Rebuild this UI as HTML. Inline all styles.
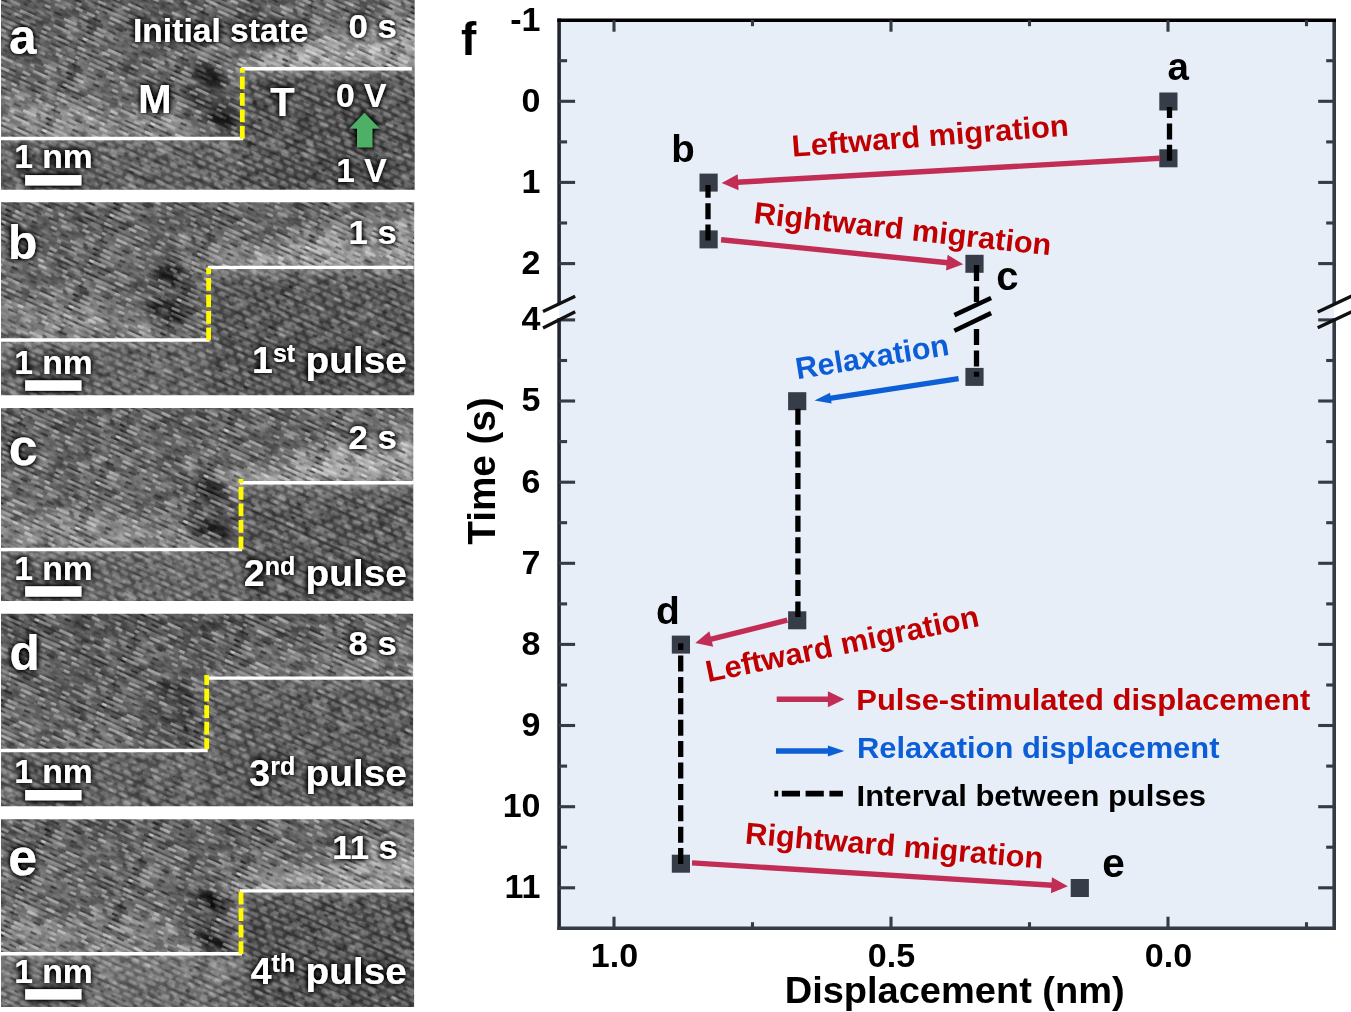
<!DOCTYPE html>
<html lang="en"><head><meta charset="utf-8"><title>Figure</title>
<style>html,body{margin:0;padding:0;background:#fff;}body{width:1351px;height:1012px;overflow:hidden;position:relative;}svg{position:absolute;left:0;top:0;display:block;}text{font-family:"Liberation Sans", sans-serif;font-weight:bold;}</style>
</head><body>
<svg width="1351" height="1012" viewBox="0 0 1351 1012">
<defs>
<filter id="glow" x="-20%" y="-40%" width="140%" height="180%"><feGaussianBlur in="SourceAlpha" stdDeviation="3.2" result="b"/><feComponentTransfer in="b" result="b2"><feFuncA type="linear" slope="1.9"/></feComponentTransfer><feMerge><feMergeNode in="b2"/><feMergeNode in="SourceGraphic"/></feMerge></filter>
<filter id="nz" x="0" y="0" width="100%" height="100%" color-interpolation-filters="sRGB"><feTurbulence type="fractalNoise" baseFrequency="0.06 0.15" numOctaves="2" seed="7" result="t"/><feColorMatrix in="t" type="matrix" values="0 0 0 0 0  0 0 0 0 0  0 0 0 0 0  0.8 0 0 0 -0.4" result="w"/><feFlood flood-color="#fff" result="fw"/><feComposite in="fw" in2="w" operator="in" result="white"/><feColorMatrix in="t" type="matrix" values="0 0 0 0 0  0 0 0 0 0  0 0 0 0 0  0 -1.0 0 0 0.5" result="k"/><feFlood flood-color="#000" result="fk"/><feComposite in="fk" in2="k" operator="in" result="black"/><feMerge><feMergeNode in="white"/><feMergeNode in="black"/></feMerge></filter>
<filter id="bl8" x="-30%" y="-30%" width="160%" height="160%"><feGaussianBlur stdDeviation="8"/></filter>
<filter id="bl14" x="-30%" y="-30%" width="160%" height="160%"><feGaussianBlur stdDeviation="14"/></filter>
<filter id="bl1" x="-5%" y="-5%" width="110%" height="110%"><feGaussianBlur stdDeviation="0.45"/></filter>
<filter id="bl3" x="-40%" y="-40%" width="180%" height="180%"><feGaussianBlur stdDeviation="3"/></filter>
<filter id="bl4" x="-30%" y="-30%" width="160%" height="160%"><feGaussianBlur stdDeviation="4"/></filter>
<pattern id="lat" width="12" height="14" patternUnits="userSpaceOnUse" patternTransform="rotate(24)"><rect x="0" y="0" width="12" height="14" fill="#000" fill-opacity="0.10"/><rect x="0.5" y="1.6" width="8" height="4.2" rx="1.6" fill="#fff" fill-opacity="0.22"/><rect x="6.5" y="8.6" width="8" height="4.2" rx="1.6" fill="#fff" fill-opacity="0.22"/><rect x="-5.5" y="8.6" width="8" height="4.2" rx="1.6" fill="#fff" fill-opacity="0.22"/></pattern>
<pattern id="stk" width="96" height="50" patternUnits="userSpaceOnUse" patternTransform="rotate(24)"><rect x="-3.7" y="0.0" width="8.1" height="2.8" fill="#fff" fill-opacity="0.32"/><rect x="92.3" y="0.0" width="8.1" height="2.8" fill="#fff" fill-opacity="0.32"/><rect x="4.3" y="0.0" width="9.2" height="2.8" fill="#fff" fill-opacity="0.29"/><rect x="13.5" y="0.0" width="9.1" height="2.8" fill="#000" fill-opacity="0.20"/><rect x="22.6" y="0.0" width="6.6" height="2.8" fill="#fff" fill-opacity="0.42"/><rect x="29.2" y="0.0" width="7.6" height="2.8" fill="#fff" fill-opacity="0.39"/><rect x="36.7" y="0.0" width="4.6" height="2.8" fill="#fff" fill-opacity="0.11"/><rect x="41.4" y="0.0" width="5.4" height="2.8" fill="#fff" fill-opacity="0.16"/><rect x="46.7" y="0.0" width="7.2" height="2.8" fill="#000" fill-opacity="0.22"/><rect x="53.9" y="0.0" width="5.2" height="2.8" fill="#000" fill-opacity="0.02"/><rect x="59.1" y="0.0" width="9.0" height="2.8" fill="#fff" fill-opacity="0.30"/><rect x="68.1" y="0.0" width="4.9" height="2.8" fill="#fff" fill-opacity="0.32"/><rect x="73.0" y="0.0" width="4.8" height="2.8" fill="#fff" fill-opacity="0.20"/><rect x="77.7" y="0.0" width="4.7" height="2.8" fill="#000" fill-opacity="0.22"/><rect x="82.4" y="0.0" width="8.8" height="2.8" fill="#000" fill-opacity="0.07"/><rect x="91.2" y="0.0" width="5.2" height="2.8" fill="#fff" fill-opacity="0.45"/><rect x="-5.2" y="2.8" width="5.6" height="2.2" fill="#000" fill-opacity="0.44"/><rect x="90.8" y="2.8" width="5.6" height="2.2" fill="#000" fill-opacity="0.44"/><rect x="0.4" y="2.8" width="7.0" height="2.2" fill="#000" fill-opacity="0.28"/><rect x="7.3" y="2.8" width="5.1" height="2.2" fill="#000" fill-opacity="0.43"/><rect x="12.4" y="2.8" width="7.8" height="2.2" fill="#000" fill-opacity="0.44"/><rect x="20.2" y="2.8" width="8.9" height="2.2" fill="#000" fill-opacity="0.07"/><rect x="29.2" y="2.8" width="6.0" height="2.2" fill="#fff" fill-opacity="0.00"/><rect x="35.1" y="2.8" width="4.8" height="2.2" fill="#fff" fill-opacity="0.06"/><rect x="40.0" y="2.8" width="5.7" height="2.2" fill="#000" fill-opacity="0.24"/><rect x="45.6" y="2.8" width="4.0" height="2.2" fill="#000" fill-opacity="0.28"/><rect x="49.6" y="2.8" width="5.9" height="2.2" fill="#000" fill-opacity="0.08"/><rect x="55.5" y="2.8" width="8.5" height="2.2" fill="#000" fill-opacity="0.17"/><rect x="64.0" y="2.8" width="5.7" height="2.2" fill="#000" fill-opacity="0.17"/><rect x="69.7" y="2.8" width="7.9" height="2.2" fill="#fff" fill-opacity="0.07"/><rect x="77.6" y="2.8" width="9.4" height="2.2" fill="#fff" fill-opacity="0.09"/><rect x="87.0" y="2.8" width="8.1" height="2.2" fill="#000" fill-opacity="0.37"/><rect x="95.1" y="2.8" width="4.1" height="2.2" fill="#000" fill-opacity="0.34"/><rect x="-2.2" y="5.0" width="7.2" height="2.8" fill="#000" fill-opacity="0.22"/><rect x="93.8" y="5.0" width="7.2" height="2.8" fill="#000" fill-opacity="0.22"/><rect x="5.0" y="5.0" width="4.3" height="2.8" fill="#000" fill-opacity="0.09"/><rect x="9.2" y="5.0" width="9.3" height="2.8" fill="#000" fill-opacity="0.08"/><rect x="18.5" y="5.0" width="8.2" height="2.8" fill="#fff" fill-opacity="0.41"/><rect x="26.7" y="5.0" width="9.2" height="2.8" fill="#fff" fill-opacity="0.02"/><rect x="35.8" y="5.0" width="6.0" height="2.8" fill="#fff" fill-opacity="0.14"/><rect x="41.8" y="5.0" width="8.3" height="2.8" fill="#000" fill-opacity="0.15"/><rect x="50.1" y="5.0" width="8.1" height="2.8" fill="#fff" fill-opacity="0.32"/><rect x="58.2" y="5.0" width="8.7" height="2.8" fill="#000" fill-opacity="0.20"/><rect x="66.9" y="5.0" width="9.2" height="2.8" fill="#000" fill-opacity="0.16"/><rect x="76.1" y="5.0" width="5.9" height="2.8" fill="#fff" fill-opacity="0.20"/><rect x="82.0" y="5.0" width="9.0" height="2.8" fill="#fff" fill-opacity="0.02"/><rect x="91.0" y="5.0" width="9.1" height="2.8" fill="#fff" fill-opacity="0.16"/><rect x="-1.9" y="7.8" width="5.7" height="2.2" fill="#000" fill-opacity="0.01"/><rect x="94.1" y="7.8" width="5.7" height="2.2" fill="#000" fill-opacity="0.01"/><rect x="3.9" y="7.8" width="4.4" height="2.2" fill="#fff" fill-opacity="0.01"/><rect x="8.3" y="7.8" width="7.8" height="2.2" fill="#000" fill-opacity="0.46"/><rect x="16.1" y="7.8" width="4.9" height="2.2" fill="#fff" fill-opacity="0.07"/><rect x="21.0" y="7.8" width="9.4" height="2.2" fill="#000" fill-opacity="0.20"/><rect x="30.4" y="7.8" width="6.2" height="2.2" fill="#000" fill-opacity="0.04"/><rect x="36.6" y="7.8" width="7.3" height="2.2" fill="#000" fill-opacity="0.36"/><rect x="43.9" y="7.8" width="6.5" height="2.2" fill="#000" fill-opacity="0.14"/><rect x="50.4" y="7.8" width="4.3" height="2.2" fill="#000" fill-opacity="0.41"/><rect x="54.7" y="7.8" width="4.2" height="2.2" fill="#000" fill-opacity="0.18"/><rect x="58.9" y="7.8" width="8.6" height="2.2" fill="#fff" fill-opacity="0.02"/><rect x="67.5" y="7.8" width="8.0" height="2.2" fill="#000" fill-opacity="0.43"/><rect x="75.5" y="7.8" width="7.5" height="2.2" fill="#000" fill-opacity="0.34"/><rect x="83.0" y="7.8" width="4.6" height="2.2" fill="#000" fill-opacity="0.15"/><rect x="87.6" y="7.8" width="4.8" height="2.2" fill="#000" fill-opacity="0.37"/><rect x="92.4" y="7.8" width="5.6" height="2.2" fill="#000" fill-opacity="0.16"/><rect x="-6.0" y="10.0" width="8.7" height="2.8" fill="#fff" fill-opacity="0.44"/><rect x="90.0" y="10.0" width="8.7" height="2.8" fill="#fff" fill-opacity="0.44"/><rect x="2.7" y="10.0" width="6.5" height="2.8" fill="#fff" fill-opacity="0.12"/><rect x="9.2" y="10.0" width="8.0" height="2.8" fill="#fff" fill-opacity="0.11"/><rect x="17.2" y="10.0" width="5.6" height="2.8" fill="#fff" fill-opacity="0.06"/><rect x="22.8" y="10.0" width="4.8" height="2.8" fill="#fff" fill-opacity="0.04"/><rect x="27.6" y="10.0" width="9.4" height="2.8" fill="#fff" fill-opacity="0.43"/><rect x="37.0" y="10.0" width="7.4" height="2.8" fill="#fff" fill-opacity="0.13"/><rect x="44.5" y="10.0" width="5.9" height="2.8" fill="#000" fill-opacity="0.16"/><rect x="50.4" y="10.0" width="5.5" height="2.8" fill="#fff" fill-opacity="0.31"/><rect x="55.8" y="10.0" width="8.8" height="2.8" fill="#fff" fill-opacity="0.03"/><rect x="64.6" y="10.0" width="8.3" height="2.8" fill="#fff" fill-opacity="0.31"/><rect x="72.9" y="10.0" width="7.8" height="2.8" fill="#fff" fill-opacity="0.24"/><rect x="80.8" y="10.0" width="8.2" height="2.8" fill="#fff" fill-opacity="0.04"/><rect x="88.9" y="10.0" width="7.9" height="2.8" fill="#000" fill-opacity="0.02"/><rect x="-2.9" y="12.8" width="8.2" height="2.2" fill="#000" fill-opacity="0.29"/><rect x="93.1" y="12.8" width="8.2" height="2.2" fill="#000" fill-opacity="0.29"/><rect x="5.3" y="12.8" width="5.6" height="2.2" fill="#000" fill-opacity="0.43"/><rect x="10.9" y="12.8" width="7.6" height="2.2" fill="#000" fill-opacity="0.23"/><rect x="18.5" y="12.8" width="4.1" height="2.2" fill="#000" fill-opacity="0.21"/><rect x="22.6" y="12.8" width="5.4" height="2.2" fill="#000" fill-opacity="0.28"/><rect x="28.0" y="12.8" width="6.5" height="2.2" fill="#000" fill-opacity="0.36"/><rect x="34.5" y="12.8" width="7.6" height="2.2" fill="#000" fill-opacity="0.35"/><rect x="42.1" y="12.8" width="5.9" height="2.2" fill="#000" fill-opacity="0.26"/><rect x="48.0" y="12.8" width="8.1" height="2.2" fill="#000" fill-opacity="0.37"/><rect x="56.0" y="12.8" width="5.9" height="2.2" fill="#000" fill-opacity="0.37"/><rect x="62.0" y="12.8" width="8.8" height="2.2" fill="#000" fill-opacity="0.29"/><rect x="70.7" y="12.8" width="9.4" height="2.2" fill="#000" fill-opacity="0.44"/><rect x="80.1" y="12.8" width="6.8" height="2.2" fill="#000" fill-opacity="0.20"/><rect x="87.0" y="12.8" width="4.9" height="2.2" fill="#000" fill-opacity="0.37"/><rect x="91.9" y="12.8" width="9.2" height="2.2" fill="#000" fill-opacity="0.17"/><rect x="-4.1" y="15.0" width="8.0" height="2.8" fill="#fff" fill-opacity="0.28"/><rect x="91.9" y="15.0" width="8.0" height="2.8" fill="#fff" fill-opacity="0.28"/><rect x="3.8" y="15.0" width="4.9" height="2.8" fill="#fff" fill-opacity="0.31"/><rect x="8.8" y="15.0" width="7.2" height="2.8" fill="#fff" fill-opacity="0.24"/><rect x="15.9" y="15.0" width="6.3" height="2.8" fill="#fff" fill-opacity="0.21"/><rect x="22.3" y="15.0" width="8.3" height="2.8" fill="#fff" fill-opacity="0.22"/><rect x="30.5" y="15.0" width="8.0" height="2.8" fill="#000" fill-opacity="0.20"/><rect x="38.5" y="15.0" width="4.9" height="2.8" fill="#fff" fill-opacity="0.09"/><rect x="43.4" y="15.0" width="7.6" height="2.8" fill="#000" fill-opacity="0.07"/><rect x="50.9" y="15.0" width="7.8" height="2.8" fill="#fff" fill-opacity="0.21"/><rect x="58.7" y="15.0" width="4.2" height="2.8" fill="#fff" fill-opacity="0.11"/><rect x="62.9" y="15.0" width="5.2" height="2.8" fill="#000" fill-opacity="0.19"/><rect x="68.2" y="15.0" width="4.7" height="2.8" fill="#fff" fill-opacity="0.00"/><rect x="72.9" y="15.0" width="5.0" height="2.8" fill="#000" fill-opacity="0.08"/><rect x="77.9" y="15.0" width="4.2" height="2.8" fill="#fff" fill-opacity="0.10"/><rect x="82.1" y="15.0" width="6.1" height="2.8" fill="#fff" fill-opacity="0.20"/><rect x="88.2" y="15.0" width="7.2" height="2.8" fill="#000" fill-opacity="0.05"/><rect x="95.5" y="15.0" width="9.0" height="2.8" fill="#000" fill-opacity="0.22"/><rect x="-2.4" y="17.8" width="5.5" height="2.2" fill="#000" fill-opacity="0.13"/><rect x="93.6" y="17.8" width="5.5" height="2.2" fill="#000" fill-opacity="0.13"/><rect x="3.1" y="17.8" width="4.6" height="2.2" fill="#000" fill-opacity="0.37"/><rect x="7.7" y="17.8" width="6.1" height="2.2" fill="#fff" fill-opacity="0.08"/><rect x="13.8" y="17.8" width="7.4" height="2.2" fill="#fff" fill-opacity="0.04"/><rect x="21.2" y="17.8" width="7.0" height="2.2" fill="#000" fill-opacity="0.10"/><rect x="28.2" y="17.8" width="7.2" height="2.2" fill="#000" fill-opacity="0.44"/><rect x="35.4" y="17.8" width="8.5" height="2.2" fill="#000" fill-opacity="0.14"/><rect x="43.9" y="17.8" width="8.5" height="2.2" fill="#000" fill-opacity="0.26"/><rect x="52.3" y="17.8" width="6.0" height="2.2" fill="#fff" fill-opacity="0.01"/><rect x="58.4" y="17.8" width="7.3" height="2.2" fill="#000" fill-opacity="0.22"/><rect x="65.6" y="17.8" width="9.3" height="2.2" fill="#000" fill-opacity="0.44"/><rect x="74.9" y="17.8" width="7.3" height="2.2" fill="#000" fill-opacity="0.10"/><rect x="82.3" y="17.8" width="8.9" height="2.2" fill="#fff" fill-opacity="0.10"/><rect x="91.2" y="17.8" width="4.6" height="2.2" fill="#000" fill-opacity="0.22"/><rect x="95.8" y="17.8" width="7.4" height="2.2" fill="#fff" fill-opacity="0.02"/><rect x="-3.8" y="20.0" width="8.9" height="2.8" fill="#fff" fill-opacity="0.04"/><rect x="92.2" y="20.0" width="8.9" height="2.8" fill="#fff" fill-opacity="0.04"/><rect x="5.1" y="20.0" width="6.4" height="2.8" fill="#000" fill-opacity="0.06"/><rect x="11.5" y="20.0" width="5.6" height="2.8" fill="#fff" fill-opacity="0.44"/><rect x="17.1" y="20.0" width="6.1" height="2.8" fill="#fff" fill-opacity="0.43"/><rect x="23.2" y="20.0" width="9.0" height="2.8" fill="#fff" fill-opacity="0.19"/><rect x="32.2" y="20.0" width="5.4" height="2.8" fill="#fff" fill-opacity="0.45"/><rect x="37.6" y="20.0" width="6.7" height="2.8" fill="#fff" fill-opacity="0.07"/><rect x="44.4" y="20.0" width="5.8" height="2.8" fill="#fff" fill-opacity="0.45"/><rect x="50.1" y="20.0" width="6.7" height="2.8" fill="#000" fill-opacity="0.02"/><rect x="56.8" y="20.0" width="6.6" height="2.8" fill="#000" fill-opacity="0.14"/><rect x="63.5" y="20.0" width="7.4" height="2.8" fill="#fff" fill-opacity="0.09"/><rect x="70.9" y="20.0" width="5.6" height="2.8" fill="#fff" fill-opacity="0.31"/><rect x="76.5" y="20.0" width="8.5" height="2.8" fill="#000" fill-opacity="0.22"/><rect x="85.0" y="20.0" width="6.9" height="2.8" fill="#000" fill-opacity="0.03"/><rect x="92.0" y="20.0" width="9.1" height="2.8" fill="#fff" fill-opacity="0.31"/><rect x="-1.5" y="22.8" width="5.5" height="2.2" fill="#fff" fill-opacity="0.01"/><rect x="94.5" y="22.8" width="5.5" height="2.2" fill="#fff" fill-opacity="0.01"/><rect x="4.0" y="22.8" width="9.4" height="2.2" fill="#000" fill-opacity="0.07"/><rect x="13.4" y="22.8" width="7.3" height="2.2" fill="#000" fill-opacity="0.17"/><rect x="20.8" y="22.8" width="7.5" height="2.2" fill="#000" fill-opacity="0.24"/><rect x="28.3" y="22.8" width="8.1" height="2.2" fill="#fff" fill-opacity="0.03"/><rect x="36.4" y="22.8" width="8.2" height="2.2" fill="#000" fill-opacity="0.07"/><rect x="44.6" y="22.8" width="6.9" height="2.2" fill="#000" fill-opacity="0.09"/><rect x="51.5" y="22.8" width="5.6" height="2.2" fill="#000" fill-opacity="0.20"/><rect x="57.2" y="22.8" width="6.6" height="2.2" fill="#000" fill-opacity="0.11"/><rect x="63.7" y="22.8" width="8.1" height="2.2" fill="#000" fill-opacity="0.23"/><rect x="71.8" y="22.8" width="4.2" height="2.2" fill="#000" fill-opacity="0.05"/><rect x="76.0" y="22.8" width="6.5" height="2.2" fill="#000" fill-opacity="0.41"/><rect x="82.5" y="22.8" width="8.9" height="2.2" fill="#000" fill-opacity="0.21"/><rect x="91.4" y="22.8" width="4.1" height="2.2" fill="#000" fill-opacity="0.34"/><rect x="95.5" y="22.8" width="6.4" height="2.2" fill="#000" fill-opacity="0.23"/><rect x="-4.2" y="25.0" width="7.5" height="2.8" fill="#fff" fill-opacity="0.11"/><rect x="91.8" y="25.0" width="7.5" height="2.8" fill="#fff" fill-opacity="0.11"/><rect x="3.2" y="25.0" width="9.0" height="2.8" fill="#fff" fill-opacity="0.05"/><rect x="12.2" y="25.0" width="6.2" height="2.8" fill="#fff" fill-opacity="0.36"/><rect x="18.4" y="25.0" width="5.1" height="2.8" fill="#000" fill-opacity="0.01"/><rect x="23.5" y="25.0" width="8.6" height="2.8" fill="#000" fill-opacity="0.18"/><rect x="32.0" y="25.0" width="8.6" height="2.8" fill="#fff" fill-opacity="0.26"/><rect x="40.6" y="25.0" width="6.4" height="2.8" fill="#000" fill-opacity="0.02"/><rect x="47.0" y="25.0" width="8.3" height="2.8" fill="#fff" fill-opacity="0.40"/><rect x="55.3" y="25.0" width="4.8" height="2.8" fill="#fff" fill-opacity="0.11"/><rect x="60.1" y="25.0" width="7.0" height="2.8" fill="#fff" fill-opacity="0.12"/><rect x="67.1" y="25.0" width="5.8" height="2.8" fill="#000" fill-opacity="0.11"/><rect x="72.9" y="25.0" width="7.2" height="2.8" fill="#fff" fill-opacity="0.33"/><rect x="80.2" y="25.0" width="4.4" height="2.8" fill="#000" fill-opacity="0.06"/><rect x="84.5" y="25.0" width="8.5" height="2.8" fill="#fff" fill-opacity="0.32"/><rect x="93.0" y="25.0" width="7.6" height="2.8" fill="#000" fill-opacity="0.21"/><rect x="-4.3" y="27.8" width="9.4" height="2.2" fill="#000" fill-opacity="0.46"/><rect x="91.7" y="27.8" width="9.4" height="2.2" fill="#000" fill-opacity="0.46"/><rect x="5.0" y="27.8" width="7.9" height="2.2" fill="#fff" fill-opacity="0.07"/><rect x="12.9" y="27.8" width="8.6" height="2.2" fill="#000" fill-opacity="0.03"/><rect x="21.5" y="27.8" width="7.6" height="2.2" fill="#000" fill-opacity="0.43"/><rect x="29.1" y="27.8" width="7.9" height="2.2" fill="#fff" fill-opacity="0.02"/><rect x="37.0" y="27.8" width="5.6" height="2.2" fill="#000" fill-opacity="0.41"/><rect x="42.6" y="27.8" width="4.8" height="2.2" fill="#000" fill-opacity="0.25"/><rect x="47.4" y="27.8" width="6.3" height="2.2" fill="#fff" fill-opacity="0.00"/><rect x="53.7" y="27.8" width="7.4" height="2.2" fill="#fff" fill-opacity="0.07"/><rect x="61.1" y="27.8" width="4.6" height="2.2" fill="#000" fill-opacity="0.12"/><rect x="65.7" y="27.8" width="4.4" height="2.2" fill="#fff" fill-opacity="0.07"/><rect x="70.1" y="27.8" width="7.2" height="2.2" fill="#000" fill-opacity="0.32"/><rect x="77.3" y="27.8" width="8.8" height="2.2" fill="#fff" fill-opacity="0.02"/><rect x="86.1" y="27.8" width="6.4" height="2.2" fill="#000" fill-opacity="0.08"/><rect x="92.5" y="27.8" width="7.3" height="2.2" fill="#000" fill-opacity="0.18"/><rect x="-5.6" y="30.0" width="6.1" height="2.8" fill="#000" fill-opacity="0.18"/><rect x="90.4" y="30.0" width="6.1" height="2.8" fill="#000" fill-opacity="0.18"/><rect x="0.4" y="30.0" width="7.8" height="2.8" fill="#000" fill-opacity="0.12"/><rect x="8.3" y="30.0" width="7.5" height="2.8" fill="#fff" fill-opacity="0.13"/><rect x="15.7" y="30.0" width="9.0" height="2.8" fill="#fff" fill-opacity="0.16"/><rect x="24.7" y="30.0" width="7.4" height="2.8" fill="#000" fill-opacity="0.03"/><rect x="32.2" y="30.0" width="7.0" height="2.8" fill="#000" fill-opacity="0.04"/><rect x="39.2" y="30.0" width="8.1" height="2.8" fill="#fff" fill-opacity="0.14"/><rect x="47.3" y="30.0" width="4.7" height="2.8" fill="#000" fill-opacity="0.06"/><rect x="52.1" y="30.0" width="6.0" height="2.8" fill="#fff" fill-opacity="0.28"/><rect x="58.1" y="30.0" width="5.0" height="2.8" fill="#fff" fill-opacity="0.27"/><rect x="63.1" y="30.0" width="7.6" height="2.8" fill="#000" fill-opacity="0.16"/><rect x="70.7" y="30.0" width="7.7" height="2.8" fill="#000" fill-opacity="0.16"/><rect x="78.4" y="30.0" width="4.7" height="2.8" fill="#fff" fill-opacity="0.19"/><rect x="83.0" y="30.0" width="5.3" height="2.8" fill="#fff" fill-opacity="0.38"/><rect x="88.4" y="30.0" width="6.6" height="2.8" fill="#fff" fill-opacity="0.01"/><rect x="95.0" y="30.0" width="8.4" height="2.8" fill="#000" fill-opacity="0.20"/><rect x="-4.4" y="32.8" width="4.3" height="2.2" fill="#fff" fill-opacity="0.01"/><rect x="91.6" y="32.8" width="4.3" height="2.2" fill="#fff" fill-opacity="0.01"/><rect x="-0.1" y="32.8" width="9.2" height="2.2" fill="#000" fill-opacity="0.28"/><rect x="95.9" y="32.8" width="9.2" height="2.2" fill="#000" fill-opacity="0.28"/><rect x="9.2" y="32.8" width="5.2" height="2.2" fill="#fff" fill-opacity="0.03"/><rect x="14.4" y="32.8" width="9.3" height="2.2" fill="#000" fill-opacity="0.28"/><rect x="23.8" y="32.8" width="8.5" height="2.2" fill="#fff" fill-opacity="0.02"/><rect x="32.3" y="32.8" width="7.4" height="2.2" fill="#000" fill-opacity="0.10"/><rect x="39.7" y="32.8" width="5.3" height="2.2" fill="#000" fill-opacity="0.09"/><rect x="45.0" y="32.8" width="7.4" height="2.2" fill="#000" fill-opacity="0.10"/><rect x="52.4" y="32.8" width="6.1" height="2.2" fill="#fff" fill-opacity="0.02"/><rect x="58.5" y="32.8" width="8.6" height="2.2" fill="#000" fill-opacity="0.27"/><rect x="67.1" y="32.8" width="8.4" height="2.2" fill="#000" fill-opacity="0.15"/><rect x="75.5" y="32.8" width="8.7" height="2.2" fill="#000" fill-opacity="0.19"/><rect x="84.2" y="32.8" width="7.3" height="2.2" fill="#000" fill-opacity="0.22"/><rect x="91.4" y="32.8" width="8.1" height="2.2" fill="#000" fill-opacity="0.13"/><rect x="-0.6" y="35.0" width="4.2" height="2.8" fill="#000" fill-opacity="0.08"/><rect x="95.4" y="35.0" width="4.2" height="2.8" fill="#000" fill-opacity="0.08"/><rect x="3.6" y="35.0" width="4.2" height="2.8" fill="#fff" fill-opacity="0.39"/><rect x="7.8" y="35.0" width="6.6" height="2.8" fill="#fff" fill-opacity="0.30"/><rect x="14.5" y="35.0" width="4.0" height="2.8" fill="#fff" fill-opacity="0.11"/><rect x="18.5" y="35.0" width="8.9" height="2.8" fill="#fff" fill-opacity="0.21"/><rect x="27.4" y="35.0" width="6.4" height="2.8" fill="#fff" fill-opacity="0.10"/><rect x="33.7" y="35.0" width="4.5" height="2.8" fill="#000" fill-opacity="0.11"/><rect x="38.3" y="35.0" width="4.9" height="2.8" fill="#fff" fill-opacity="0.04"/><rect x="43.1" y="35.0" width="6.1" height="2.8" fill="#fff" fill-opacity="0.38"/><rect x="49.3" y="35.0" width="4.8" height="2.8" fill="#000" fill-opacity="0.04"/><rect x="54.1" y="35.0" width="5.5" height="2.8" fill="#000" fill-opacity="0.11"/><rect x="59.6" y="35.0" width="5.6" height="2.8" fill="#000" fill-opacity="0.05"/><rect x="65.2" y="35.0" width="6.7" height="2.8" fill="#000" fill-opacity="0.20"/><rect x="71.9" y="35.0" width="9.1" height="2.8" fill="#fff" fill-opacity="0.04"/><rect x="80.9" y="35.0" width="9.2" height="2.8" fill="#fff" fill-opacity="0.25"/><rect x="90.1" y="35.0" width="7.7" height="2.8" fill="#fff" fill-opacity="0.11"/><rect x="-5.7" y="37.8" width="4.6" height="2.2" fill="#000" fill-opacity="0.28"/><rect x="90.3" y="37.8" width="4.6" height="2.2" fill="#000" fill-opacity="0.28"/><rect x="-1.0" y="37.8" width="5.6" height="2.2" fill="#000" fill-opacity="0.28"/><rect x="95.0" y="37.8" width="5.6" height="2.2" fill="#000" fill-opacity="0.28"/><rect x="4.6" y="37.8" width="8.0" height="2.2" fill="#fff" fill-opacity="0.00"/><rect x="12.6" y="37.8" width="5.1" height="2.2" fill="#fff" fill-opacity="0.09"/><rect x="17.7" y="37.8" width="5.3" height="2.2" fill="#fff" fill-opacity="0.05"/><rect x="23.0" y="37.8" width="6.2" height="2.2" fill="#000" fill-opacity="0.45"/><rect x="29.2" y="37.8" width="6.0" height="2.2" fill="#000" fill-opacity="0.08"/><rect x="35.2" y="37.8" width="6.6" height="2.2" fill="#000" fill-opacity="0.06"/><rect x="41.7" y="37.8" width="8.0" height="2.2" fill="#000" fill-opacity="0.30"/><rect x="49.8" y="37.8" width="4.9" height="2.2" fill="#000" fill-opacity="0.04"/><rect x="54.7" y="37.8" width="7.7" height="2.2" fill="#000" fill-opacity="0.43"/><rect x="62.4" y="37.8" width="7.6" height="2.2" fill="#000" fill-opacity="0.15"/><rect x="69.9" y="37.8" width="9.4" height="2.2" fill="#fff" fill-opacity="0.10"/><rect x="79.3" y="37.8" width="4.3" height="2.2" fill="#000" fill-opacity="0.34"/><rect x="83.6" y="37.8" width="6.3" height="2.2" fill="#fff" fill-opacity="0.07"/><rect x="89.9" y="37.8" width="7.0" height="2.2" fill="#000" fill-opacity="0.45"/><rect x="-3.1" y="40.0" width="5.9" height="2.8" fill="#000" fill-opacity="0.16"/><rect x="92.9" y="40.0" width="5.9" height="2.8" fill="#000" fill-opacity="0.16"/><rect x="2.8" y="40.0" width="4.4" height="2.8" fill="#fff" fill-opacity="0.39"/><rect x="7.2" y="40.0" width="6.7" height="2.8" fill="#fff" fill-opacity="0.42"/><rect x="13.9" y="40.0" width="4.3" height="2.8" fill="#000" fill-opacity="0.05"/><rect x="18.2" y="40.0" width="4.3" height="2.8" fill="#fff" fill-opacity="0.06"/><rect x="22.5" y="40.0" width="4.3" height="2.8" fill="#000" fill-opacity="0.04"/><rect x="26.8" y="40.0" width="6.2" height="2.8" fill="#000" fill-opacity="0.00"/><rect x="33.0" y="40.0" width="4.3" height="2.8" fill="#000" fill-opacity="0.20"/><rect x="37.3" y="40.0" width="9.3" height="2.8" fill="#000" fill-opacity="0.09"/><rect x="46.7" y="40.0" width="6.8" height="2.8" fill="#fff" fill-opacity="0.06"/><rect x="53.5" y="40.0" width="6.9" height="2.8" fill="#000" fill-opacity="0.16"/><rect x="60.4" y="40.0" width="5.7" height="2.8" fill="#000" fill-opacity="0.15"/><rect x="66.1" y="40.0" width="7.0" height="2.8" fill="#fff" fill-opacity="0.41"/><rect x="73.1" y="40.0" width="7.3" height="2.8" fill="#fff" fill-opacity="0.36"/><rect x="80.4" y="40.0" width="5.2" height="2.8" fill="#000" fill-opacity="0.21"/><rect x="85.6" y="40.0" width="7.0" height="2.8" fill="#fff" fill-opacity="0.12"/><rect x="92.5" y="40.0" width="7.1" height="2.8" fill="#fff" fill-opacity="0.04"/><rect x="-3.8" y="42.8" width="8.0" height="2.2" fill="#000" fill-opacity="0.41"/><rect x="92.2" y="42.8" width="8.0" height="2.2" fill="#000" fill-opacity="0.41"/><rect x="4.2" y="42.8" width="5.7" height="2.2" fill="#000" fill-opacity="0.16"/><rect x="9.9" y="42.8" width="8.5" height="2.2" fill="#000" fill-opacity="0.03"/><rect x="18.5" y="42.8" width="4.6" height="2.2" fill="#000" fill-opacity="0.08"/><rect x="23.1" y="42.8" width="4.5" height="2.2" fill="#000" fill-opacity="0.33"/><rect x="27.6" y="42.8" width="8.5" height="2.2" fill="#000" fill-opacity="0.08"/><rect x="36.1" y="42.8" width="4.7" height="2.2" fill="#fff" fill-opacity="0.05"/><rect x="40.8" y="42.8" width="5.3" height="2.2" fill="#fff" fill-opacity="0.05"/><rect x="46.2" y="42.8" width="6.4" height="2.2" fill="#000" fill-opacity="0.23"/><rect x="52.5" y="42.8" width="5.3" height="2.2" fill="#fff" fill-opacity="0.06"/><rect x="57.9" y="42.8" width="7.9" height="2.2" fill="#fff" fill-opacity="0.07"/><rect x="65.7" y="42.8" width="5.1" height="2.2" fill="#000" fill-opacity="0.07"/><rect x="70.8" y="42.8" width="6.1" height="2.2" fill="#fff" fill-opacity="0.04"/><rect x="76.9" y="42.8" width="6.3" height="2.2" fill="#000" fill-opacity="0.08"/><rect x="83.2" y="42.8" width="8.1" height="2.2" fill="#000" fill-opacity="0.21"/><rect x="91.3" y="42.8" width="8.9" height="2.2" fill="#000" fill-opacity="0.27"/><rect x="-4.6" y="45.0" width="7.2" height="2.8" fill="#fff" fill-opacity="0.09"/><rect x="91.4" y="45.0" width="7.2" height="2.8" fill="#fff" fill-opacity="0.09"/><rect x="2.6" y="45.0" width="8.5" height="2.8" fill="#fff" fill-opacity="0.23"/><rect x="11.1" y="45.0" width="9.3" height="2.8" fill="#fff" fill-opacity="0.28"/><rect x="20.3" y="45.0" width="7.9" height="2.8" fill="#000" fill-opacity="0.03"/><rect x="28.2" y="45.0" width="8.5" height="2.8" fill="#fff" fill-opacity="0.05"/><rect x="36.7" y="45.0" width="4.7" height="2.8" fill="#000" fill-opacity="0.18"/><rect x="41.4" y="45.0" width="4.9" height="2.8" fill="#000" fill-opacity="0.03"/><rect x="46.3" y="45.0" width="7.7" height="2.8" fill="#000" fill-opacity="0.02"/><rect x="54.0" y="45.0" width="4.3" height="2.8" fill="#fff" fill-opacity="0.30"/><rect x="58.4" y="45.0" width="7.1" height="2.8" fill="#000" fill-opacity="0.21"/><rect x="65.4" y="45.0" width="4.3" height="2.8" fill="#000" fill-opacity="0.13"/><rect x="69.7" y="45.0" width="6.0" height="2.8" fill="#fff" fill-opacity="0.37"/><rect x="75.7" y="45.0" width="9.2" height="2.8" fill="#fff" fill-opacity="0.20"/><rect x="84.9" y="45.0" width="5.3" height="2.8" fill="#fff" fill-opacity="0.08"/><rect x="90.2" y="45.0" width="6.0" height="2.8" fill="#fff" fill-opacity="0.01"/><rect x="-0.1" y="47.8" width="7.2" height="2.2" fill="#000" fill-opacity="0.36"/><rect x="95.9" y="47.8" width="7.2" height="2.2" fill="#000" fill-opacity="0.36"/><rect x="7.1" y="47.8" width="8.0" height="2.2" fill="#fff" fill-opacity="0.04"/><rect x="15.1" y="47.8" width="6.9" height="2.2" fill="#000" fill-opacity="0.00"/><rect x="22.1" y="47.8" width="7.9" height="2.2" fill="#000" fill-opacity="0.15"/><rect x="30.0" y="47.8" width="9.2" height="2.2" fill="#000" fill-opacity="0.35"/><rect x="39.1" y="47.8" width="4.7" height="2.2" fill="#000" fill-opacity="0.08"/><rect x="43.8" y="47.8" width="9.0" height="2.2" fill="#000" fill-opacity="0.16"/><rect x="52.8" y="47.8" width="6.4" height="2.2" fill="#000" fill-opacity="0.15"/><rect x="59.2" y="47.8" width="8.2" height="2.2" fill="#000" fill-opacity="0.42"/><rect x="67.4" y="47.8" width="6.9" height="2.2" fill="#000" fill-opacity="0.44"/><rect x="74.3" y="47.8" width="7.3" height="2.2" fill="#fff" fill-opacity="0.04"/><rect x="81.6" y="47.8" width="8.5" height="2.2" fill="#000" fill-opacity="0.14"/><rect x="90.1" y="47.8" width="4.3" height="2.2" fill="#000" fill-opacity="0.45"/><rect x="94.4" y="47.8" width="4.2" height="2.2" fill="#000" fill-opacity="0.23"/></pattern>
<clipPath id="cpa"><rect x="1.0" y="0.0" width="413.7" height="189.8"/></clipPath>
<clipPath id="cpb"><rect x="1.0" y="202.3" width="413.2" height="193.0"/></clipPath>
<clipPath id="cpc"><rect x="1.0" y="407.9" width="412.3" height="193.0"/></clipPath>
<clipPath id="cpd"><rect x="1.0" y="613.7" width="412.1" height="192.6"/></clipPath>
<clipPath id="cpe"><rect x="1.0" y="819.3" width="413.1" height="187.8"/></clipPath>
</defs>
<rect x="0" y="0" width="1351" height="1012" fill="#fff"/>
<g clip-path="url(#cpa)"><g filter="url(#bl1)">
<rect x="0" y="-1.0" width="416" height="191.8" fill="#6b6b6b"/>
<polygon points="192.3,74.7 416,10.7 416,72.7 252.3,74.7" fill="#fff" fill-opacity="0.46" filter="url(#bl8)"/>
<polygon points="0,96.5 172.3,110.5 230.3,140.5 0,140.5" fill="#fff" fill-opacity="0.26" filter="url(#bl8)"/>
<rect x="246.3" y="72.7" width="177.7" height="131.1" fill="#000" fill-opacity="0.29" filter="url(#bl4)"/>
<rect x="-10" y="-14.0" width="302.3" height="40" fill="#000" fill-opacity="0.10" filter="url(#bl8)"/>
<rect x="-10" y="142.5" width="256.3" height="61.3" fill="#000" fill-opacity="0.10" filter="url(#bl4)"/>
<ellipse cx="212.3" cy="103.6" rx="26" ry="38.9" fill="#000" fill-opacity="0.22" filter="url(#bl8)"/>
<ellipse cx="208.3" cy="74.7" rx="20.0" ry="10.0" transform="rotate(24 208.3 74.7)" fill="#000" fill-opacity="0.72" filter="url(#bl4)"/>
<ellipse cx="222.3" cy="118.5" rx="15.0" ry="10.0" transform="rotate(24 222.3 118.5)" fill="#000" fill-opacity="0.72" filter="url(#bl4)"/>
<ellipse cx="196.3" cy="98.5" rx="12.0" ry="7.0" transform="rotate(24 196.3 98.5)" fill="#000" fill-opacity="0.36" filter="url(#bl4)"/>
<path d="M242.3,68.7H416V190.8H0V138.5H242.3Z" fill="url(#stk)" opacity="0.6"/>
<path d="M242.3,68.7H416V190.8H0V138.5H242.3Z" fill="url(#lat)"/>
<path d="M0,-1.0H416V68.7H242.3V138.5H0Z" fill="url(#stk)"/>
<g transform="rotate(24 207.0 94.9)"><rect x="-60" y="-135.1" width="540" height="460" fill="#808080" filter="url(#nz)"/></g>
</g></g>
<g stroke="#fff" stroke-width="3.4" fill="none"><line x1="1.0" y1="138.5" x2="243.3" y2="138.5"/><line x1="241.3" y1="68.7" x2="411.8" y2="68.7"/></g>
<line x1="242.3" y1="138.8" x2="242.3" y2="68.0" stroke="#fffa00" stroke-width="4.8" stroke-dasharray="12.7 3.8" stroke-dashoffset="0.0"/>
<g clip-path="url(#cpa)"><g filter="url(#glow)" fill="#fff">
<rect x="25.2" y="175.1" width="56.2" height="10.3"/>
<text x="14.2" y="168.4" font-size="33.5" textLength="78.6" lengthAdjust="spacingAndGlyphs">1 nm</text>
<text x="9.0" y="54.0" font-size="49.5">a</text>
<text x="348.6" y="37.9" font-size="33.5" textLength="48.4" lengthAdjust="spacingAndGlyphs">0 s</text>
<text x="133" y="42.2" font-size="33.8" textLength="175.5" lengthAdjust="spacingAndGlyphs">Initial state</text>
<text x="138.3" y="113" font-size="40">M</text>
<text x="270.2" y="116" font-size="40">T</text>
<text x="336" y="107.1" font-size="34" textLength="50.6" lengthAdjust="spacingAndGlyphs">0 V</text>
<text x="336.2" y="182.4" font-size="34" textLength="50.4" lengthAdjust="spacingAndGlyphs">1 V</text>
</g></g>
<g filter="url(#glow)"><polygon points="364.4,113 379.6,128.6 372.3,128.6 372.3,147.3 357,147.3 357,128.6 349.6,128.6" fill="#4db066"/></g>
<g clip-path="url(#cpb)"><g filter="url(#bl1)">
<rect x="0" y="201.3" width="416" height="195.0" fill="#6b6b6b"/>
<polygon points="158.6,273.4 416,209.4 416,271.4 218.6,273.4" fill="#fff" fill-opacity="0.41" filter="url(#bl8)"/>
<polygon points="0,298.0 138.6,312.0 196.6,342.0 0,342.0" fill="#fff" fill-opacity="0.23" filter="url(#bl8)"/>
<rect x="212.6" y="271.4" width="211.4" height="137.9" fill="#000" fill-opacity="0.25" filter="url(#bl4)"/>
<rect x="-10" y="188.3" width="268.6" height="40" fill="#000" fill-opacity="0.10" filter="url(#bl8)"/>
<rect x="-10" y="344.0" width="222.6" height="65.3" fill="#000" fill-opacity="0.06" filter="url(#bl4)"/>
<ellipse cx="178.6" cy="303.7" rx="26" ry="40.3" fill="#000" fill-opacity="0.20" filter="url(#bl8)"/>
<ellipse cx="170.6" cy="275.4" rx="18.0" ry="10.0" transform="rotate(24 170.6 275.4)" fill="#000" fill-opacity="0.74" filter="url(#bl4)"/>
<ellipse cx="168.6" cy="312.0" rx="19.0" ry="10.0" transform="rotate(24 168.6 312.0)" fill="#000" fill-opacity="0.66" filter="url(#bl4)"/>
<path d="M208.6,267.4H416V396.3H0V340.0H208.6Z" fill="url(#stk)" opacity="0.6"/>
<path d="M208.6,267.4H416V396.3H0V340.0H208.6Z" fill="url(#lat)"/>
<path d="M0,201.3H416V267.4H208.6V340.0H0Z" fill="url(#stk)"/>
<g transform="rotate(24 207.0 298.8)"><rect x="-60" y="68.8" width="540" height="460" fill="#808080" filter="url(#nz)"/></g>
</g></g>
<g stroke="#fff" stroke-width="3.4" fill="none"><line x1="1.0" y1="340.0" x2="209.6" y2="340.0"/><line x1="207.6" y1="267.4" x2="413.6" y2="267.4"/></g>
<line x1="208.6" y1="340.2" x2="208.6" y2="268.0" stroke="#fffa00" stroke-width="4.8" stroke-dasharray="12.7 3.8" stroke-dashoffset="0.0"/>
<g clip-path="url(#cpb)"><g filter="url(#glow)" fill="#fff">
<rect x="25.2" y="380.4" width="56.2" height="10.3"/>
<text x="14.2" y="373.7" font-size="33.5" textLength="78.6" lengthAdjust="spacingAndGlyphs">1 nm</text>
<text x="8.0" y="258.8" font-size="48.0">b</text>
<text x="348.6" y="244.1" font-size="33.5" textLength="48.4" lengthAdjust="spacingAndGlyphs">1 s</text>
<text x="295.2" y="373.4" font-size="37.5" text-anchor="end">1<tspan font-size="25" dy="-11.6">st</tspan></text>
<text x="305.6" y="373.4" font-size="37.5" textLength="101.2" lengthAdjust="spacingAndGlyphs">pulse</text>
</g></g>
<g clip-path="url(#cpc)"><g filter="url(#bl1)">
<rect x="0" y="406.9" width="416" height="195.0" fill="#6b6b6b"/>
<polygon points="191.0,488.8 416,424.8 416,486.8 251.0,488.8" fill="#fff" fill-opacity="0.46" filter="url(#bl8)"/>
<polygon points="0,507.5 171.0,521.5 229.0,551.5 0,551.5" fill="#fff" fill-opacity="0.26" filter="url(#bl8)"/>
<rect x="245.0" y="486.8" width="179.0" height="128.1" fill="#000" fill-opacity="0.23" filter="url(#bl4)"/>
<rect x="-10" y="393.9" width="301.0" height="40" fill="#000" fill-opacity="0.10" filter="url(#bl8)"/>
<rect x="-10" y="553.5" width="255.0" height="61.4" fill="#000" fill-opacity="0.05" filter="url(#bl4)"/>
<ellipse cx="211.0" cy="516.1" rx="26" ry="37.3" fill="#000" fill-opacity="0.20" filter="url(#bl8)"/>
<ellipse cx="211.0" cy="490.8" rx="19.0" ry="10.0" transform="rotate(24 211.0 490.8)" fill="#000" fill-opacity="0.66" filter="url(#bl4)"/>
<ellipse cx="213.0" cy="529.5" rx="19.0" ry="10.0" transform="rotate(24 213.0 529.5)" fill="#000" fill-opacity="0.66" filter="url(#bl4)"/>
<path d="M241.0,482.8H416V601.9H0V549.5H241.0Z" fill="url(#stk)" opacity="0.6"/>
<path d="M241.0,482.8H416V601.9H0V549.5H241.0Z" fill="url(#lat)"/>
<path d="M0,406.9H416V482.8H241.0V549.5H0Z" fill="url(#stk)"/>
<g transform="rotate(24 207.0 504.4)"><rect x="-60" y="274.4" width="540" height="460" fill="#808080" filter="url(#nz)"/></g>
</g></g>
<g stroke="#fff" stroke-width="3.4" fill="none"><line x1="1.0" y1="549.5" x2="242.0" y2="549.5"/><line x1="240.0" y1="482.8" x2="413.6" y2="482.8"/></g>
<line x1="241.0" y1="549.3" x2="241.0" y2="479.1" stroke="#fffa00" stroke-width="4.8" stroke-dasharray="12.7 3.8" stroke-dashoffset="0.0"/>
<g clip-path="url(#cpc)"><g filter="url(#glow)" fill="#fff">
<rect x="25.2" y="586.3" width="56.2" height="10.3"/>
<text x="14.2" y="579.6" font-size="33.5" textLength="78.6" lengthAdjust="spacingAndGlyphs">1 nm</text>
<text x="8.7" y="464.8" font-size="52.0">c</text>
<text x="348.6" y="449.1" font-size="33.5" textLength="48.4" lengthAdjust="spacingAndGlyphs">2 s</text>
<text x="295.2" y="586.4" font-size="37.5" text-anchor="end">2<tspan font-size="25" dy="-11.6">nd</tspan></text>
<text x="305.6" y="586.4" font-size="37.5" textLength="101.2" lengthAdjust="spacingAndGlyphs">pulse</text>
</g></g>
<g clip-path="url(#cpd)"><g filter="url(#bl1)">
<rect x="0" y="612.7" width="416" height="194.6" fill="#6b6b6b"/>
<rect x="0" y="612.7" width="416" height="194.6" fill="#000" fill-opacity="0.09"/>
<polygon points="156.7,684.1 416,620.1 416,682.1 216.7,684.1" fill="#fff" fill-opacity="0.16" filter="url(#bl8)"/>
<polygon points="0,708.5 136.7,722.5 194.7,752.5 0,752.5" fill="#fff" fill-opacity="0.09" filter="url(#bl8)"/>
<rect x="210.7" y="682.1" width="213.3" height="138.2" fill="#000" fill-opacity="0.09" filter="url(#bl4)"/>
<rect x="-10" y="599.7" width="266.7" height="40" fill="#000" fill-opacity="0.10" filter="url(#bl8)"/>
<ellipse cx="176.7" cy="714.3" rx="26" ry="40.2" fill="#000" fill-opacity="0.10" filter="url(#bl8)"/>
<ellipse cx="176.7" cy="690.1" rx="18.0" ry="9.0" transform="rotate(24 176.7 690.1)" fill="#000" fill-opacity="0.34" filter="url(#bl4)"/>
<ellipse cx="176.7" cy="725.5" rx="18.0" ry="9.0" transform="rotate(24 176.7 725.5)" fill="#000" fill-opacity="0.26" filter="url(#bl4)"/>
<path d="M206.7,678.1H416V807.3H0V750.5H206.7Z" fill="url(#stk)" opacity="0.6"/>
<path d="M206.7,678.1H416V807.3H0V750.5H206.7Z" fill="url(#lat)"/>
<path d="M0,612.7H416V678.1H206.7V750.5H0Z" fill="url(#stk)"/>
<g transform="rotate(24 207.0 710.0)"><rect x="-60" y="480.0" width="540" height="460" fill="#808080" filter="url(#nz)"/></g>
</g></g>
<g stroke="#fff" stroke-width="3.4" fill="none"><line x1="1.0" y1="750.5" x2="207.7" y2="750.5"/><line x1="205.7" y1="678.1" x2="413.6" y2="678.1"/></g>
<line x1="206.7" y1="748.9" x2="206.7" y2="674.9" stroke="#fffa00" stroke-width="4.8" stroke-dasharray="12.7 3.8" stroke-dashoffset="2.1"/>
<g clip-path="url(#cpd)"><g filter="url(#glow)" fill="#fff">
<rect x="25.2" y="790.0" width="56.2" height="10.3"/>
<text x="14.2" y="783.3" font-size="33.5" textLength="78.6" lengthAdjust="spacingAndGlyphs">1 nm</text>
<text x="9.4" y="669.5" font-size="49.5">d</text>
<text x="348.6" y="654.5" font-size="33.5" textLength="48.4" lengthAdjust="spacingAndGlyphs">8 s</text>
<text x="295.2" y="786.3" font-size="37.5" text-anchor="end">3<tspan font-size="25" dy="-11.6">rd</tspan></text>
<text x="305.6" y="786.3" font-size="37.5" textLength="101.2" lengthAdjust="spacingAndGlyphs">pulse</text>
</g></g>
<g clip-path="url(#cpe)"><g filter="url(#bl1)">
<rect x="0" y="818.3" width="416" height="189.8" fill="#6b6b6b"/>
<polygon points="191.0,896.9 416,832.9 416,894.9 251.0,896.9" fill="#fff" fill-opacity="0.39" filter="url(#bl8)"/>
<polygon points="0,911.8 171.0,925.8 229.0,955.8 0,955.8" fill="#fff" fill-opacity="0.22" filter="url(#bl8)"/>
<rect x="245.0" y="894.9" width="179.0" height="126.2" fill="#000" fill-opacity="0.31" filter="url(#bl4)"/>
<rect x="-10" y="805.3" width="301.0" height="40" fill="#000" fill-opacity="0.10" filter="url(#bl8)"/>
<rect x="-10" y="957.8" width="255.0" height="26.0" fill="#fff" fill-opacity="0.12" filter="url(#bl4)"/>
<ellipse cx="211.0" cy="922.3" rx="26" ry="35.4" fill="#000" fill-opacity="0.15" filter="url(#bl8)"/>
<ellipse cx="211.0" cy="900.9" rx="15.0" ry="9.0" transform="rotate(24 211.0 900.9)" fill="#000" fill-opacity="0.96" filter="url(#bl4)"/>
<ellipse cx="215.0" cy="941.8" rx="17.0" ry="9.0" transform="rotate(24 215.0 941.8)" fill="#000" fill-opacity="0.84" filter="url(#bl4)"/>
<path d="M241.0,890.9H416V1008.1H0V953.8H241.0Z" fill="url(#stk)" opacity="0.6"/>
<path d="M241.0,890.9H416V1008.1H0V953.8H241.0Z" fill="url(#lat)"/>
<path d="M0,818.3H416V890.9H241.0V953.8H0Z" fill="url(#stk)"/>
<g transform="rotate(24 207.0 913.2)"><rect x="-60" y="683.2" width="540" height="460" fill="#808080" filter="url(#nz)"/></g>
</g></g>
<g stroke="#fff" stroke-width="3.4" fill="none"><line x1="1.0" y1="953.8" x2="242.0" y2="953.8"/><line x1="240.0" y1="890.9" x2="413.6" y2="890.9"/></g>
<line x1="241.0" y1="953.9" x2="241.0" y2="891.3" stroke="#fffa00" stroke-width="4.8" stroke-dasharray="12.7 3.8" stroke-dashoffset="0.0"/>
<g clip-path="url(#cpe)"><g filter="url(#glow)" fill="#fff">
<rect x="25.2" y="989.2" width="56.2" height="10.3"/>
<text x="14.2" y="982.5" font-size="33.5" textLength="78.6" lengthAdjust="spacingAndGlyphs">1 nm</text>
<text x="8.2" y="874.8" font-size="52.0">e</text>
<text x="332.3" y="858.9" font-size="33.5" textLength="65.6" lengthAdjust="spacingAndGlyphs">11 s</text>
<text x="295.2" y="983.9" font-size="37.5" text-anchor="end">4<tspan font-size="25" dy="-11.6">th</tspan></text>
<text x="305.6" y="983.9" font-size="37.5" textLength="101.2" lengthAdjust="spacingAndGlyphs">pulse</text>
</g></g>
<g id="chart">
<rect x="559.1" y="20.2" width="775.1" height="908.0" fill="#e8eef8"/>
<g stroke="#22262e" stroke-width="3.6" fill="none" stroke-linecap="butt">
<line x1="559.1" y1="18.4" x2="559.1" y2="303.5"/>
<line x1="559.1" y1="318.3" x2="559.1" y2="930.0"/>
</g>
<g stroke="#353b46" stroke-width="3.6" fill="none">
<line x1="1334.2" y1="20.2" x2="1334.2" y2="303.5"/>
<line x1="1334.2" y1="318.3" x2="1334.2" y2="930.0"/>
<line x1="557.3" y1="928.2" x2="1336.0" y2="928.2"/>
</g>
<line x1="557.3" y1="20.2" x2="1336.0" y2="20.2" stroke="#000" stroke-width="3.5"/>
<g stroke="#353b46" stroke-width="3.1">
<line x1="559.1" y1="101.3" x2="575.1" y2="101.3"/>
<line x1="1334.2" y1="101.3" x2="1318.2" y2="101.3"/>
<line x1="559.1" y1="182.4" x2="575.1" y2="182.4"/>
<line x1="1334.2" y1="182.4" x2="1318.2" y2="182.4"/>
<line x1="559.1" y1="263.6" x2="575.1" y2="263.6"/>
<line x1="1334.2" y1="263.6" x2="1318.2" y2="263.6"/>
<line x1="559.1" y1="319.9" x2="575.1" y2="319.9"/>
<line x1="1334.2" y1="319.9" x2="1318.2" y2="319.9"/>
<line x1="559.1" y1="401.0" x2="575.1" y2="401.0"/>
<line x1="1334.2" y1="401.0" x2="1318.2" y2="401.0"/>
<line x1="559.1" y1="482.2" x2="575.1" y2="482.2"/>
<line x1="1334.2" y1="482.2" x2="1318.2" y2="482.2"/>
<line x1="559.1" y1="563.3" x2="575.1" y2="563.3"/>
<line x1="1334.2" y1="563.3" x2="1318.2" y2="563.3"/>
<line x1="559.1" y1="644.4" x2="575.1" y2="644.4"/>
<line x1="1334.2" y1="644.4" x2="1318.2" y2="644.4"/>
<line x1="559.1" y1="725.5" x2="575.1" y2="725.5"/>
<line x1="1334.2" y1="725.5" x2="1318.2" y2="725.5"/>
<line x1="559.1" y1="806.7" x2="575.1" y2="806.7"/>
<line x1="1334.2" y1="806.7" x2="1318.2" y2="806.7"/>
<line x1="559.1" y1="887.8" x2="575.1" y2="887.8"/>
<line x1="1334.2" y1="887.8" x2="1318.2" y2="887.8"/>
<line x1="559.1" y1="60.7" x2="567.1" y2="60.7"/>
<line x1="1334.2" y1="60.7" x2="1326.2" y2="60.7"/>
<line x1="559.1" y1="141.9" x2="567.1" y2="141.9"/>
<line x1="1334.2" y1="141.9" x2="1326.2" y2="141.9"/>
<line x1="559.1" y1="223.0" x2="567.1" y2="223.0"/>
<line x1="1334.2" y1="223.0" x2="1326.2" y2="223.0"/>
<line x1="559.1" y1="360.5" x2="567.1" y2="360.5"/>
<line x1="1334.2" y1="360.5" x2="1326.2" y2="360.5"/>
<line x1="559.1" y1="441.6" x2="567.1" y2="441.6"/>
<line x1="1334.2" y1="441.6" x2="1326.2" y2="441.6"/>
<line x1="559.1" y1="522.7" x2="567.1" y2="522.7"/>
<line x1="1334.2" y1="522.7" x2="1326.2" y2="522.7"/>
<line x1="559.1" y1="603.9" x2="567.1" y2="603.9"/>
<line x1="1334.2" y1="603.9" x2="1326.2" y2="603.9"/>
<line x1="559.1" y1="685.0" x2="567.1" y2="685.0"/>
<line x1="1334.2" y1="685.0" x2="1326.2" y2="685.0"/>
<line x1="559.1" y1="766.1" x2="567.1" y2="766.1"/>
<line x1="1334.2" y1="766.1" x2="1326.2" y2="766.1"/>
<line x1="559.1" y1="847.2" x2="567.1" y2="847.2"/>
<line x1="1334.2" y1="847.2" x2="1326.2" y2="847.2"/>
<line x1="614.0" y1="928.2" x2="614.0" y2="916.7"/>
<line x1="614.0" y1="20.2" x2="614.0" y2="31.7"/>
<line x1="891.0" y1="928.2" x2="891.0" y2="916.7"/>
<line x1="891.0" y1="20.2" x2="891.0" y2="31.7"/>
<line x1="1168.0" y1="928.2" x2="1168.0" y2="916.7"/>
<line x1="1168.0" y1="20.2" x2="1168.0" y2="31.7"/>
<line x1="752.5" y1="928.2" x2="752.5" y2="922.2"/>
<line x1="752.5" y1="20.2" x2="752.5" y2="26.2"/>
<line x1="1029.5" y1="928.2" x2="1029.5" y2="922.2"/>
<line x1="1029.5" y1="20.2" x2="1029.5" y2="26.2"/>
<line x1="1306.5" y1="928.2" x2="1306.5" y2="922.2"/>
<line x1="1306.5" y1="20.2" x2="1306.5" y2="26.2"/>
</g>
<g stroke="#111" stroke-width="3.3" stroke-linecap="butt">
<line x1="543" y1="311.5" x2="575.2" y2="296.3"/>
<line x1="543" y1="327.9" x2="575.2" y2="311.8"/>
<line x1="1317.7" y1="311.9" x2="1352" y2="295.9"/>
<line x1="1317.7" y1="327.7" x2="1352" y2="311.6"/>
</g>
<text x="540.5" y="30.5" font-size="34" text-anchor="end" fill="#000">-1</text>
<text x="540.5" y="111.6" font-size="34" text-anchor="end" fill="#000">0</text>
<text x="540.5" y="192.7" font-size="34" text-anchor="end" fill="#000">1</text>
<text x="540.5" y="273.9" font-size="34" text-anchor="end" fill="#000">2</text>
<text x="540.5" y="330.2" font-size="34" text-anchor="end" fill="#000">4</text>
<text x="540.5" y="411.3" font-size="34" text-anchor="end" fill="#000">5</text>
<text x="540.5" y="492.5" font-size="34" text-anchor="end" fill="#000">6</text>
<text x="540.5" y="573.6" font-size="34" text-anchor="end" fill="#000">7</text>
<text x="540.5" y="654.7" font-size="34" text-anchor="end" fill="#000">8</text>
<text x="540.5" y="735.8" font-size="34" text-anchor="end" fill="#000">9</text>
<text x="540.5" y="817.0" font-size="34" text-anchor="end" fill="#000">10</text>
<text x="540.5" y="898.1" font-size="34" text-anchor="end" fill="#000">11</text>
<text x="614.5" y="967" font-size="34" text-anchor="middle" fill="#000">1.0</text>
<text x="891.5" y="967" font-size="34" text-anchor="middle" fill="#000">0.5</text>
<text x="1168.5" y="967" font-size="34" text-anchor="middle" fill="#000">0.0</text>
<text x="954.7" y="1002.8" font-size="37.5" text-anchor="middle" fill="#000" textLength="340" lengthAdjust="spacingAndGlyphs">Displacement (nm)</text>
<text transform="translate(494.8,471) rotate(-90)" font-size="38" text-anchor="middle" fill="#000" textLength="147.5" lengthAdjust="spacingAndGlyphs">Time (s)</text>
<text x="461" y="54.5" font-size="46" fill="#000">f</text>
<g fill="#373d48">
<rect x="1159.3" y="92.5" width="18.2" height="18"/>
<rect x="1159.3" y="149.3" width="18.2" height="18"/>
<rect x="699.5" y="173.6" width="18.2" height="18"/>
<rect x="699.5" y="230.4" width="18.2" height="18"/>
<rect x="965.4" y="254.8" width="18.2" height="18"/>
<rect x="965.4" y="367.9" width="18.2" height="18"/>
<rect x="788.1" y="392.2" width="18.2" height="18"/>
<rect x="788.1" y="611.3" width="18.2" height="18"/>
<rect x="671.8" y="635.6" width="18.2" height="18"/>
<rect x="671.8" y="854.7" width="18.2" height="18"/>
<rect x="1070.7" y="879.0" width="18.2" height="18"/>
</g>
<g stroke="#000" stroke-width="5.3" stroke-dasharray="16 5.4" fill="none">
<line x1="1169.5" y1="160.8" x2="1169.5" y2="106.9"/>
<line x1="708.0" y1="240.6" x2="708.0" y2="185.0"/>
<line x1="976.5" y1="265.0" x2="976.5" y2="302.0"/>
<line x1="976.5" y1="329.0" x2="976.5" y2="376.7"/>
<line x1="797.9" y1="408.8" x2="797.9" y2="617.0"/>
<line x1="680.7" y1="864.1" x2="680.7" y2="643.2"/>
</g>
<g stroke="#000" stroke-width="4.6">
<line x1="954.4" y1="315.1" x2="991.1" y2="298"/>
<line x1="954.4" y1="330.7" x2="991.1" y2="313.1"/>
</g>
<line x1="1160.0" y1="158.2" x2="737.2" y2="182.2" stroke="#c12d55" stroke-width="5.4"/>
<polygon points="721.7,183.1 737.7,174.2 738.6,190.2" fill="#c12d55"/>
<line x1="721.1" y1="239.7" x2="947.8" y2="262.7" stroke="#c12d55" stroke-width="5.4"/>
<polygon points="963.2,264.3 946.0,270.6 947.6,254.7" fill="#c12d55"/>
<line x1="958.6" y1="378.6" x2="829.8" y2="398.3" stroke="#0d5fd6" stroke-width="5.4"/>
<polygon points="814.5,400.6 830.0,392.7 831.6,403.5" fill="#0d5fd6"/>
<line x1="787.3" y1="620.2" x2="710.3" y2="639.3" stroke="#c12d55" stroke-width="5.4"/>
<polygon points="695.3,643.0 709.4,631.3 713.2,646.8" fill="#c12d55"/>
<line x1="692.0" y1="862.9" x2="1052.4" y2="885.3" stroke="#c12d55" stroke-width="5.4"/>
<polygon points="1067.9,886.3 1050.9,893.3 1051.9,877.3" fill="#c12d55"/>
<line x1="776.7" y1="699.3" x2="828.9" y2="699.3" stroke="#c12d55" stroke-width="5.4"/>
<polygon points="844.4,699.3 827.9,707.3 827.9,691.3" fill="#c12d55"/>
<line x1="776.0" y1="751.0" x2="828.9" y2="751.0" stroke="#0d5fd6" stroke-width="5.4"/>
<polygon points="844.4,751.0 827.9,756.5 827.9,745.5" fill="#0d5fd6"/>
<line x1="774.4" y1="793.6" x2="842.9" y2="793.6" stroke="#000" stroke-width="5.8" stroke-dasharray="3.8 3.6 18.2 5.6 18.2 5.6 18 0"/>
<text x="856.3" y="709.9" font-size="30" fill="#c00000" textLength="454" lengthAdjust="spacingAndGlyphs">Pulse-stimulated displacement</text>
<text x="857" y="758" font-size="30" fill="#0b5ed7" textLength="362.5" lengthAdjust="spacingAndGlyphs">Relaxation displacement</text>
<text x="856.6" y="806.2" font-size="30" fill="#000" textLength="349.5" lengthAdjust="spacingAndGlyphs">Interval between pulses</text>
<text transform="translate(792.6,156.8) rotate(-4.40)" font-size="30.5" fill="#c00000" textLength="277.5" lengthAdjust="spacingAndGlyphs">Leftward migration</text>
<text transform="translate(753.0,223.1) rotate(6.20)" font-size="30.5" fill="#c00000" textLength="299.0" lengthAdjust="spacingAndGlyphs">Rightward migration</text>
<text transform="translate(797.2,379.2) rotate(-9.10)" font-size="30.5" fill="#0b5ed7" textLength="155.0" lengthAdjust="spacingAndGlyphs">Relaxation</text>
<text transform="translate(708.1,682.2) rotate(-11.65)" font-size="30.5" fill="#c00000" textLength="278.2" lengthAdjust="spacingAndGlyphs">Leftward migration</text>
<text transform="translate(744.6,843.5) rotate(4.80)" font-size="30.5" fill="#c00000" textLength="299.0" lengthAdjust="spacingAndGlyphs">Rightward migration</text>
<text x="1167.5" y="80.2" font-size="38.5" fill="#000">a</text>
<text x="671.2" y="161.8" font-size="38.5" fill="#000">b</text>
<text x="996.2" y="289.8" font-size="40.0" fill="#000">c</text>
<text x="656.0" y="623.8" font-size="39.0" fill="#000">d</text>
<text x="1102.3" y="876.6" font-size="40.5" fill="#000">e</text>
</g>
</svg>
</body></html>
